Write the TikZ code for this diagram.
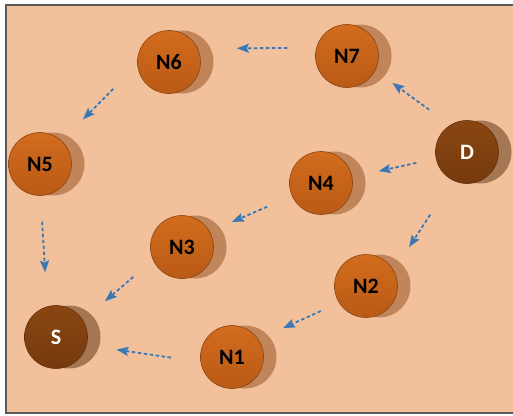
\documentclass[tikz,border=0pt]{standalone}
\usepackage{fontspec}
\setmainfont{Carlito}
\usetikzlibrary{arrows.meta,shadows}
\definecolor{bgc}{HTML}{F2C19B}
\definecolor{framec}{HTML}{5A5A5A}
\definecolor{otop}{HTML}{D26C1D}
\definecolor{obot}{HTML}{B95A16}
\definecolor{oedge}{HTML}{8A4512}
\definecolor{oshad}{HTML}{C0855A}
\definecolor{dtop}{HTML}{8A4612}
\definecolor{dbot}{HTML}{753A0E}
\definecolor{dedge}{HTML}{653010}
\definecolor{dshad}{HTML}{A47653}
\definecolor{arrc}{HTML}{3B78B4}
\tikzset{
  nodebase/.style={circle, minimum size=63pt, inner sep=0pt, line width=0.6pt,
    font=\fontsize{22}{24}\selectfont\bfseries},
  onode/.style={nodebase, draw=oedge, top color=otop, bottom color=obot, text=black,
    drop shadow={shadow xshift=13pt, shadow yshift=0pt, fill=oshad, opacity=1}},
  dnode/.style={nodebase, draw=dedge, top color=dtop, bottom color=dbot, text=white,
    drop shadow={shadow xshift=13pt, shadow yshift=0pt, fill=dshad, opacity=1}},
  arr/.style={draw=arrc, line width=1.8pt, dash pattern=on 3.5pt off 2.5pt,
    -{Stealth[length=12pt,width=9pt,inset=2pt,fill=arrc]}}
}
\begin{document}
\begin{tikzpicture}[x=1pt,y=-1pt]
\useasboundingbox (0,0) rectangle (513,415);
\fill[white] (0,0) rectangle (513,415);
\draw[draw=framec, fill=bgc, line width=1.2pt] (6,5) rectangle (530,413);
\node[onode] (N6) at (169,62) {N6};
\node[onode] (N7) at (347,56) {N7};
\node[onode] (N5) at (40,164) {N5};
\node[dnode] (D) at (467,152) {D};
\node[onode] (N4) at (321,183) {N4};
\node[onode] (N3) at (182,247) {N3};
\node[onode] (N2) at (366,286) {N2};
\node[dnode] (S) at (56,337) {S};
\node[onode] (N1) at (232,357) {N1};
\draw[arr, shorten <=29pt, shorten >=39pt] (N7.165.5) -- (N6.25.9);
\draw[arr, shorten <=34pt, shorten >=30pt] (N6.185.2) -- (N5.47.5);
\draw[arr, shorten <=26pt, shorten >=34pt] (N5.-89.3) -- (S.106.2);
\draw[arr, shorten <=26pt, shorten >=21pt] (D.122.7) -- (N7.-27.5);
\draw[arr, shorten <=20pt, shorten >=27pt] (D.192.1) -- (N4.11.2);
\draw[arr, shorten <=27pt, shorten >=24pt] (N4.204.6) -- (N3.29.1);
\draw[arr, shorten <=26pt, shorten >=29pt] (N3.204.2) -- (S.32.3);
\draw[arr, shorten <=30pt, shorten >=30pt] (N1.189.5) -- (S.-15.8);
\draw[arr, shorten <=41pt, shorten >=28pt] (D.243.1) -- (N2.29.6);
\draw[arr, shorten <=20pt, shorten >=27pt] (N2.212.1) -- (N1.34.2);
\end{tikzpicture}
\end{document}
